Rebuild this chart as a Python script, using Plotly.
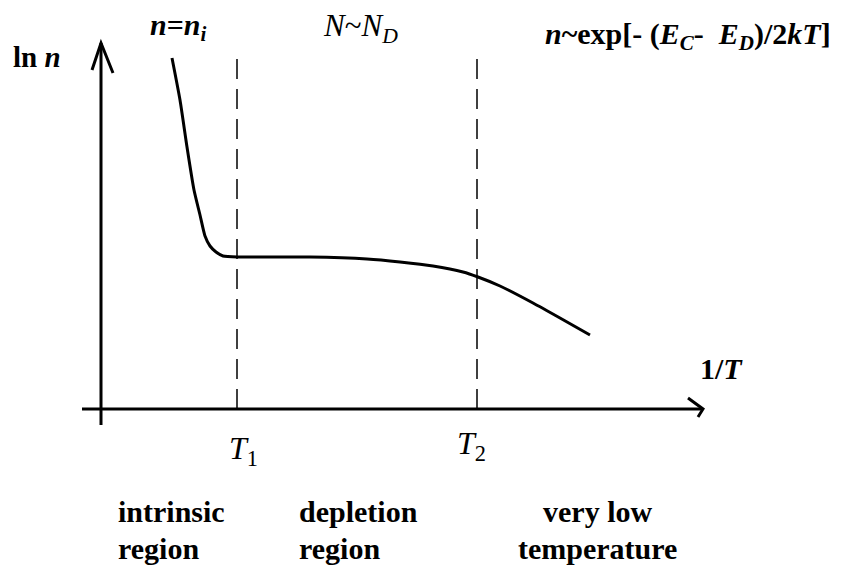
import plotly.graph_objects as go

# --- adatok (tetszőleges egységek: x = 1/T, y = ln n) ---
inv_T = [0.71, 0.79, 0.86, 0.93, 0.99, 1.04, 1.09, 1.15, 1.22, 1.39,
         2.09, 2.66, 2.99, 3.32, 3.62, 3.77, 3.99, 4.32, 4.59, 4.89]
ln_n = [3.51, 3.09, 2.62, 2.19, 1.94, 1.73, 1.63, 1.57, 1.53, 1.52,
        1.52, 1.50, 1.47, 1.43, 1.37, 1.32, 1.23, 1.06, 0.91, 0.74]

T_marks = [1.36, 3.76]          # T1, T2 helye az 1/T tengelyen
T_labels = ["<i>T</i><sub>1</sub>", "<i>T</i><sub>2</sub>"]
dash_tops = [3.57, 3.52]

region_lines = [["intrinsic", "region"], ["depletion", "region"], ["very low", "temperature"]]

SERIF = "Liberation Serif"

fig = go.Figure()

fig.add_trace(go.Scatter(
    x=inv_T, y=ln_n, mode="lines",
    line=dict(color="black", width=3, shape="spline", smoothing=0.6),
    hoverinfo="skip"
))

# --- tengelyek nyíllal ---
AX = dict(color="black", width=3)
fig.add_shape(type="line", x0=-0.19, y0=0, x1=6.02, y1=0, line=AX)
fig.add_shape(type="line", x0=0, y0=-0.16, x1=0, y1=3.66, line=AX)
fig.add_shape(type="path", path="M 5.87,0.11 L 6.02,0 L 5.97,-0.08", line=AX)
fig.add_shape(type="path", path="M -0.09,3.39 L 0,3.66 L 0.12,3.36", line=AX)

# --- szaggatott függőleges vonalak és T1, T2 ---
for xm, top, lab, dx, dy in zip(T_marks, dash_tops, T_labels, [0.06, -0.06], [-0.41, -0.36]):
    fig.add_shape(type="line", x0=xm, y0=0, x1=xm, y1=top,
                  line=dict(color="black", width=1.5, dash="20px,10px"))
    fig.add_annotation(x=xm + dx, y=dy, text=lab, showarrow=False,
                       font=dict(family=SERIF, size=32, color="black"))

# --- régiók feliratai (két sor, nagy sorköz; az alsó sor a lap aljához igazítva) ---
region_pos = [(0.16, "left"), (1.97, "left"), (4.96, "center")]
for (xr, anc), lines in zip(region_pos, region_lines):
    for yl, yanc, line in zip([-1.02, -1.565], ["middle", "bottom"], lines):
        fig.add_annotation(x=xr, y=yl, text="<b>" + line + "</b>", showarrow=False,
                           xanchor=anc, yanchor=yanc, borderpad=0,
                           font=dict(family=SERIF, size=30, color="black"))

texts = [
    (-0.645, 3.52, "center", "<b>ln <i>n</i></b>", 29),
    (0.77, 3.82, "center", "<b><i>n</i>=<i>n<sub>i</sub></i></b>", 30),
    (2.59, 3.81, "center", "<i>N</i>~<i>N<sub>D</sub></i>", 31),
    (7.32, 3.73, "right", "<b><i>n</i>~exp[- (<i>E<sub>C</sub></i>-  <i>E<sub>D</sub></i>)/2<i>kT</i>]</b>", 30),
    (6.20, 0.41, "center", "<b>1/<i>T</i></b>", 30),
]
for xt, yt, anc, txt, sz in texts:
    fig.add_annotation(x=xt, y=yt, text=txt, showarrow=False, xanchor=anc,
                       font=dict(family=SERIF, size=sz, color="black"))

# a böngésző 8 px-es margót tesz a lap köré, ezért kisebb a vászon
fig.update_layout(
    width=835, height=559,
    margin=dict(l=0, r=0, t=0, b=0),
    paper_bgcolor="white", plot_bgcolor="white",
    showlegend=False,
    font=dict(family=SERIF),
)
fig.update_xaxes(range=[-0.93, 7.42], visible=False, fixedrange=True)
fig.update_yaxes(range=[-1.58, 4.01], visible=False, fixedrange=True)

fig.write_html("out.html")
